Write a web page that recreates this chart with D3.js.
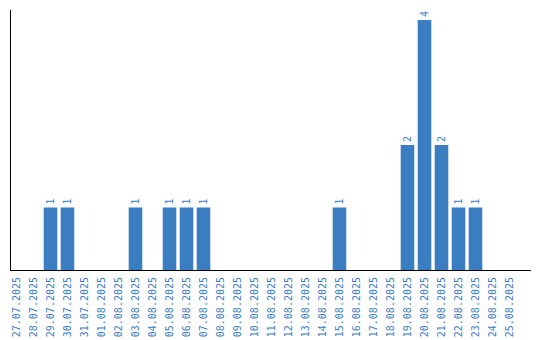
<!DOCTYPE html>
<html>
<head>
<meta charset="utf-8">
<script src="https://cdn.jsdelivr.net/npm/d3@7"></script>
<style>
  html, body { margin: 0; padding: 0; background: #fff; }
  svg { display: block; }
</style>
</head>
<body>
<div id="chart"></div>
<script>
// daily counts, 27.07.2025 – 25.08.2025
const dates = [
  '27.07.2025', '28.07.2025', '29.07.2025', '30.07.2025', '31.07.2025',
  '01.08.2025', '02.08.2025', '03.08.2025', '04.08.2025', '05.08.2025',
  '06.08.2025', '07.08.2025', '08.08.2025', '09.08.2025', '10.08.2025',
  '11.08.2025', '12.08.2025', '13.08.2025', '14.08.2025', '15.08.2025',
  '16.08.2025', '17.08.2025', '18.08.2025', '19.08.2025', '20.08.2025',
  '21.08.2025', '22.08.2025', '23.08.2025', '24.08.2025', '25.08.2025'
];
const counts = [
  0, 0, 1, 1, 0,
  0, 0, 1, 0, 1,
  1, 1, 0, 0, 0,
  0, 0, 0, 0, 1,
  0, 0, 0, 2, 4,
  2, 1, 1, 0, 0
];

const W = 540, H = 340;
const BAR = '#3b7dc1';
const FONT = '"DejaVu Sans Mono", "Liberation Mono", monospace';

const svg = d3.select('#chart').append('svg')
  .attr('width', W).attr('height', H);

const data = dates.map((d, i) => ({ date: d, n: counts[i] }));

const x = d3.scaleBand()
  .domain(dates)
  .range([8, 518])
  .paddingInner(0.2)
  .paddingOuter(0.1);

const y = d3.scaleLinear()
  .domain([0, 4.16])
  .range([270, 10]);

// bars
svg.append('g').selectAll('rect')
  .data(data.filter(d => d.n > 0)).join('rect')
  .attr('x', d => x(d.date))
  .attr('y', d => y(d.n))
  .attr('width', x.bandwidth())
  .attr('height', d => y(0) - y(d.n))
  .attr('fill', BAR);

// value labels, rotated like the ticks
svg.append('g').selectAll('text')
  .data(data.filter(d => d.n > 0)).join('text')
  .attr('transform', d => `translate(${x(d.date) + x.bandwidth() / 2 + 3.5},${y(d.n) - 3}) rotate(-90)`)
  .attr('font-family', FONT)
  .attr('font-size', 10)
  .attr('fill', BAR)
  .text(d => d.n);

// x axis: only the rotated labels, baseline drawn below
const xAxis = svg.append('g')
  .attr('transform', `translate(0,${y(0)})`)
  .call(d3.axisBottom(x).tickSize(0).tickPadding(0));
xAxis.select('.domain').remove();
xAxis.selectAll('text')
  .attr('font-family', FONT)
  .attr('font-size', 10)
  .attr('fill', BAR)
  .attr('text-anchor', 'end')
  .attr('dy', null)
  .attr('transform', 'translate(3.5,7) rotate(-90)');

svg.append('line')
  .attr('x1', 10).attr('x2', 531)
  .attr('y1', 270.5).attr('y2', 270.5)
  .attr('stroke', '#000').attr('stroke-width', 1);

// y axis: bare line, no ticks
svg.append('line')
  .attr('x1', 10.5).attr('x2', 10.5)
  .attr('y1', 10).attr('y2', 271)
  .attr('stroke', '#000').attr('stroke-width', 1);
</script>
</body>
</html>
